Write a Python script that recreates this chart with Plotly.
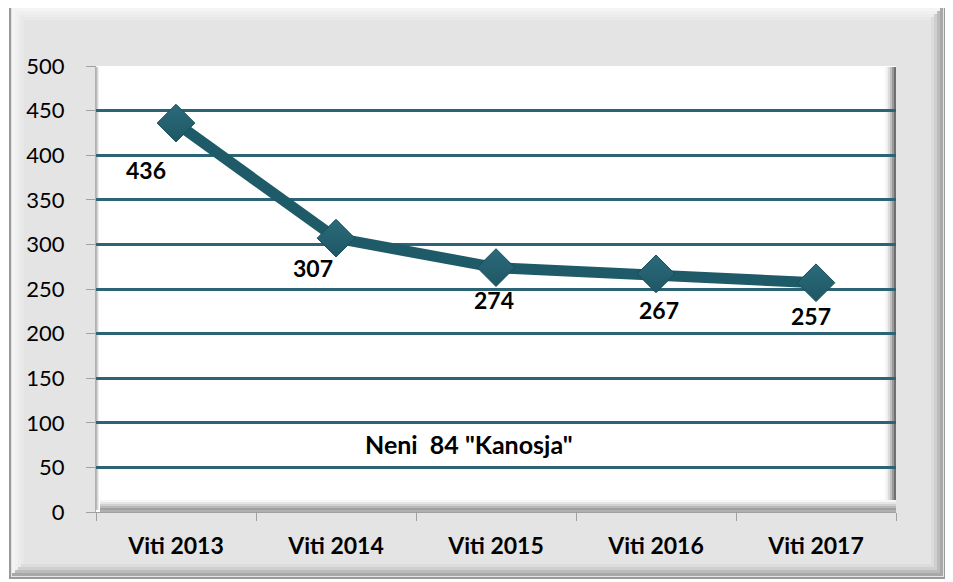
import plotly.graph_objects as go

categories = ["Viti 2013", "Viti 2014", "Viti 2015", "Viti 2016", "Viti 2017"]
values = [436, 307, 274, 267, 257]
y_ticks = [0, 50, 100, 150, 200, 250, 300, 350, 400, 450, 500]
annotation_text = "Neni\u00a0\u00a084 \"Kanosja\""

# label offsets (pixels) relative to each point
label_dx = [-30, -23, -2, 3, -5]
label_dy = [-47, -30, -32, -36, -33]

FONT = "Lato, 'Open Sans', sans-serif"
LINE_C = "#1f5a68"
GRID_C = "#2c6476"

fig = go.Figure()
fig.add_trace(go.Scatter(
    x=categories, y=values, mode="lines+markers",
    line=dict(color=LINE_C, width=11),
    marker=dict(symbol="diamond", size=29, color="#2b6b7b",
                line=dict(color="#1a4d59", width=1),
                gradient=dict(type="vertical", color="#1f5764")),
    hoverinfo="x+y", showlegend=False,
))

for c, v, dx, dy in zip(categories, values, label_dx, label_dy):
    fig.add_annotation(x=c, y=v, text=f"<b>{v}</b>", showarrow=False,
                       xshift=dx, yshift=dy,
                       font=dict(family=FONT, size=23, color="black"))

fig.add_annotation(x=0.466, xref="paper", y=76, yref="y",
                   text=f"<b>{annotation_text}</b>", showarrow=False,
                   font=dict(family=FONT, size=25, color="black"))

# the page body adds an 8px offset; absolute page coordinates below
OFF = 8
W, H = 953 - OFF, 582 - OFF
L, R, T, B = 96 - OFF, 57, 66 - OFF, 70
pw, ph = 800, 446

def px(x):
    return (x - 96) / pw

def py(y):
    return (512 - y) / ph

shapes = []
# outer frame
shapes.append(dict(type="rect", xref="paper", yref="paper",
                   x0=px(10), x1=px(945), y0=py(578), y1=py(6),
                   fillcolor="#e4e4e4", line=dict(color="#9a9a9a", width=2),
                   layer="below"))
# frame bevel: light top/left, dark bottom/right
for i, col in enumerate(["#f4f4f4", "#f0f0f0", "#ececec", "#e8e8e8"]):
    shapes.append(dict(type="rect", xref="paper", yref="paper",
                       x0=px(12 + i * 3), x1=px(15 + i * 3), y0=py(576 - i * 3), y1=py(8 + i * 3),
                       fillcolor=col, line=dict(width=0), layer="below"))
    shapes.append(dict(type="rect", xref="paper", yref="paper",
                       x0=px(12 + i * 3), x1=px(943 - i * 3), y0=py(11 + i * 3), y1=py(8 + i * 3),
                       fillcolor=col, line=dict(width=0), layer="below"))
for i, col in enumerate(["#a8a8a8", "#bcbcbc", "#cfcfcf", "#dcdcdc"]):
    shapes.append(dict(type="rect", xref="paper", yref="paper",
                       x0=px(12 + i * 3), x1=px(943 - i * 3), y0=py(576 - i * 3), y1=py(573 - i * 3),
                       fillcolor=col, line=dict(width=0), layer="below"))
    shapes.append(dict(type="rect", xref="paper", yref="paper",
                       x0=px(940 - i * 3), x1=px(943 - i * 3), y0=py(576 - i * 3), y1=py(8 + i * 3),
                       fillcolor=col, line=dict(width=0), layer="below"))
# plot area background
shapes.append(dict(type="rect", xref="paper", yref="paper", x0=0, x1=1, y0=0, y1=1,
                   fillcolor="white", line=dict(width=0), layer="below"))
# inner shadow on right and bottom of the plot area
for i, col in enumerate(["#fbfbfb", "#f0f0f0", "#dcdcdc", "#c0c0c0", "#9a9a9a", "#707070"]):
    shapes.append(dict(type="rect", xref="paper", yref="paper",
                       x0=px(884 + i * 2), x1=px(886 + i * 2), y0=py(505 - i), y1=py(67),
                       fillcolor=col, line=dict(width=0), layer="below"))
for i, col in enumerate(["#f6f6f6", "#e6e6e6", "#d0d0d0", "#b8b8b8", "#a0a0a0", "#b0b0b0"]):
    shapes.append(dict(type="rect", xref="paper", yref="paper",
                       x0=px(100), x1=px(896), y0=py(500 + i * 2), y1=py(502 + i * 2),
                       fillcolor=col, line=dict(width=0), layer="below"))
for i, col in enumerate(["#b8b8b8", "#d8d8d8", "#ececec"]):
    shapes.append(dict(type="rect", xref="paper", yref="paper",
                       x0=px(96 + i), x1=px(97 + i), y0=py(510), y1=py(67),
                       fillcolor=col, line=dict(width=0), layer="below"))

fig.update_layout(
    width=W, height=H,
    margin=dict(l=L, r=R, t=T, b=B),
    paper_bgcolor="white",
    plot_bgcolor="rgba(0,0,0,0)",
    shapes=shapes,
    font=dict(family=FONT, color="black"),
    xaxis=dict(
        type="category", categoryorder="array", categoryarray=categories,
        range=[-0.5, 4.5], showgrid=False, zeroline=False,
        showline=True, linecolor="#a0a0a0", linewidth=1,
        ticks="outside", tickson="boundaries", ticklen=8, tickcolor="#a0a0a0",
        tickfont=dict(family=FONT, size=23, color="black", weight="bold"),
        ticklabelstandoff=13,
    ),
    yaxis=dict(
        range=[0, 500], tickvals=y_ticks, showgrid=True, gridcolor=GRID_C, gridwidth=2.5,
        zeroline=False, showline=True, linecolor="#b0b0b0", linewidth=1,
        ticks="outside", ticklen=9, tickcolor="#a0a0a0",
        tickfont=dict(family=FONT, size=22, color="black"),
        ticklabelstandoff=17,
    ),
)

fig.write_html("out.html")
